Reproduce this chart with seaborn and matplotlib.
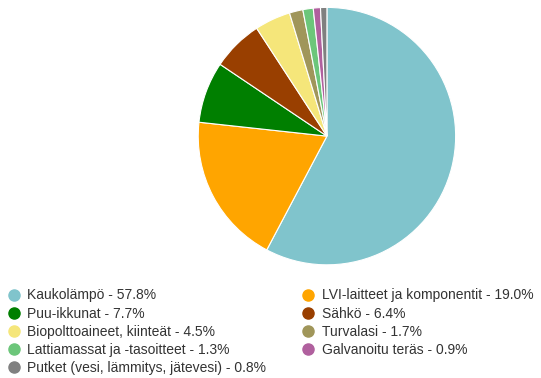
import matplotlib
matplotlib.use("Agg")
import matplotlib.pyplot as plt
from matplotlib.lines import Line2D
import seaborn as sns

categories = [
    "Kaukolämpö", "LVI-laitteet ja komponentit", "Puu-ikkunat", "Sähkö",
    "Biopolttoaineet, kiinteät", "Turvalasi", "Lattiamassat ja -tasoitteet",
    "Galvanoitu teräs", "Putket (vesi, lämmitys, jätevesi)",
]
shares = [57.8, 19.0, 7.7, 6.4, 4.5, 1.7, 1.3, 0.9, 0.8]
colors = ["#80C4CC", "#FFA500", "#007F00", "#993F00", "#F5E67A",
          "#A0965A", "#6CC67A", "#B0609E", "#808080"]

sns.set_theme(style="white")
plt.rcParams["font.family"] = ["Liberation Sans", "DejaVu Sans"]

palette = sns.color_palette(colors)
fig = plt.figure(figsize=(5.41, 3.78), dpi=100)
ax = fig.add_axes([0.364, 0.296, 0.4806, 0.6878])
ax.pie(shares, colors=palette, startangle=90, counterclock=False,
       radius=1.0, wedgeprops=dict(edgecolor="white", linewidth=0.8))
ax.set_xlim(-1.01, 1.01)
ax.set_ylim(-1.01, 1.01)
ax.set_aspect("equal")
ax.axis("off")

labels = [f"{c} - {v:.1f}%" for c, v in zip(categories, shares)]
handles = [Line2D([], [], marker="o", linestyle="none", markersize=8,
                  markerfacecolor=col, markeredgecolor=col) for col in palette]

def column(idx, x, y):
    leg = fig.legend([handles[i] for i in idx], [labels[i] for i in idx],
                     loc="upper left", bbox_to_anchor=(x, y), frameon=False,
                     fontsize=10, handlelength=0.9, handletextpad=0.55,
                     labelspacing=0.3, borderaxespad=0, borderpad=0,
                     labelcolor="#333333")
    return leg

column([0, 2, 4, 6, 8], 7.3 / 541, 1 - 288.5 / 378)
column([1, 3, 5, 7], 302 / 541, 1 - 288.5 / 378)

fig.savefig("out.png", dpi=100)
